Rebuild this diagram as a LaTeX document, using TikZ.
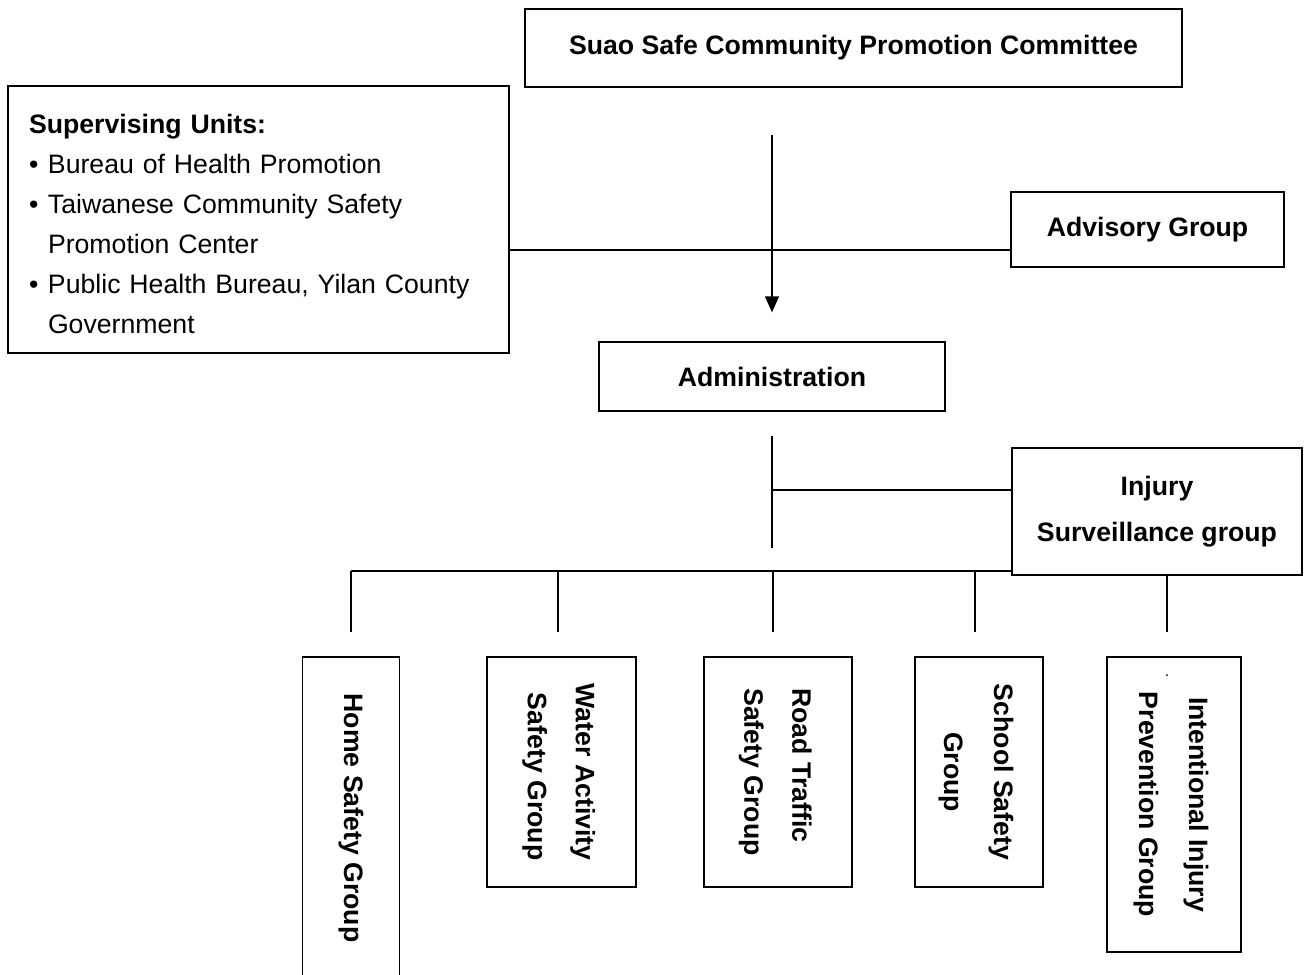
\documentclass[tikz,border=0pt]{standalone}
\usepackage{fontspec}
\usepackage{graphicx}
\setmainfont{Liberation Sans}
\usetikzlibrary{arrows.meta}
\newcommand{\vlines}[3]{\rotatebox{-90}{\fontsize{20}{#1}\selectfont\begin{tabular}{@{}#2@{}}#3\end{tabular}}}
\begin{document}
\begin{tikzpicture}[x=0.75pt,y=-0.75pt,
  box/.style={draw, line width=1pt, rectangle, inner sep=0pt,
    font=\fontsize{20}{24}\selectfont\bfseries, align=center},
  conn/.style={line width=1pt},
  arr/.style={conn, -{Triangle[width=10.5pt,length=12pt]}}]
\useasboundingbox (0,0) rectangle (1309,974);
\clip (0,0) rectangle (1309,974);

% boxes
\node[box, minimum width=492.75pt, minimum height=58.5pt] (top) at (853.5,48)
  {Suao Safe Community Promotion Committee};
\node[box, minimum width=375.75pt, minimum height=200.25pt, text width=344.25pt,
  inner xsep=15.75pt, align=left, font=\fontsize{20}{30}\selectfont] (sup) at (258.5,219.5)
  {\rule{0pt}{21pt}\textbf{Supervising Units:}\\
   \makebox[14.25pt][l]{\textbullet}Bureau of Health Promotion\\
   \makebox[14.25pt][l]{\textbullet}Taiwanese Community Safety\\
   \hspace*{14.25pt}Promotion Center\\
   \makebox[14.25pt][l]{\textbullet}Public Health Bureau, Yilan County\\
   \hspace*{14.25pt}Government};
\node[box, minimum width=204.75pt, minimum height=56.25pt] (adv) at (1147.5,229.5) {Advisory Group};
\node[box, minimum width=259.5pt, minimum height=51.75pt] (admin) at (772,376.5) {Administration};
\node[box, minimum width=217.5pt, minimum height=95.25pt, font=\fontsize{20}{35}\selectfont\bfseries]
  (inj) at (1157,511.5) {Injury\\Surveillance group};

\node[box, minimum width=72.75pt, minimum height=241.5pt] (home) at (351,818)
  {\rotatebox{-90}{Home Safety Group}};
\node[box, minimum width=111.75pt, minimum height=172.5pt] (water) at (561.5,772)
  {\vlines{36}{r}{Water Activity\\Safety Group}};
\node[box, minimum width=111pt, minimum height=172.5pt] (road) at (778,772)
  {\vlines{36}{l}{Road Traffic\\Safety Group}};
\node[box, minimum width=96pt, minimum height=172.5pt] (school) at (979,772)
  {\vlines{37.5}{c}{School Safety\\Group}};
\node[box, minimum width=100.5pt, minimum height=221.25pt] (intent) at (1174,804.5)
  {\vlines{37.5}{c}{Intentional Injury\\Prevention Group}};
\node[inner sep=0pt, font=\fontsize{12}{12}\selectfont] (dot) at (1167,676) {.};

% helper coordinates
\coordinate (l1) at (0,250);
\coordinate (j) at (772,490);
\coordinate (bus) at (351,571);
\coordinate (d2) at (558,571);
\coordinate (d3) at (773,571);
\coordinate (d4) at (975,571);
\coordinate (d5) at (1167,571);

% connectors
\draw[arr, shorten <=35.25pt, shorten >=21.75pt] (admin.north |- top.south) -- (admin.north);
\draw[conn] (sup.east |- l1) -- (adv.west |- l1);
\draw[conn, shorten <=18pt, shorten >=17.25pt] (admin.south) -- (admin.south |- bus);
\draw[conn] (j) -- (inj.west |- j);
\draw[conn] (home.north |- bus) -- (inj.west |- bus);
\draw[conn, shorten >=18pt] (home.north |- bus) -- (home.north);
\draw[conn, shorten >=18pt] (d2) -- (d2 |- water.north);
\draw[conn, shorten >=18pt] (d3) -- (d3 |- road.north);
\draw[conn, shorten >=18pt] (d4) -- (d4 |- school.north);
\draw[conn, shorten >=18pt] (d5 |- inj.south) -- (d5 |- intent.north);
\end{tikzpicture}
\end{document}
